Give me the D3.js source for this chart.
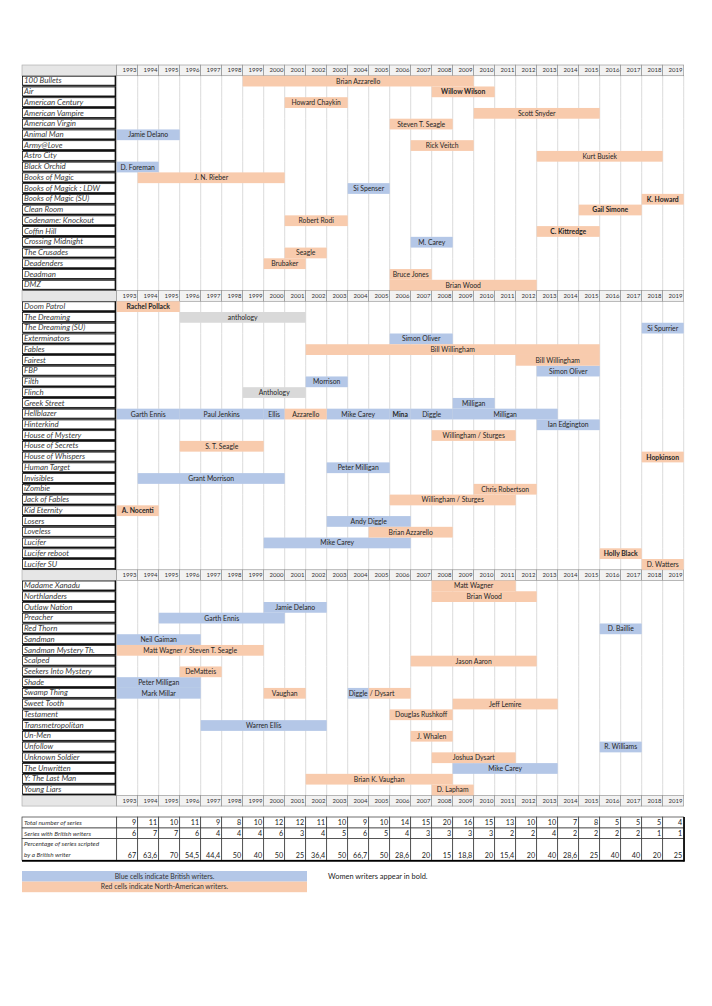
<!DOCTYPE html>
<html>
<head>
<meta charset="utf-8">
<script src="https://cdn.jsdelivr.net/npm/d3@7/dist/d3.min.js"></script>
<style>
  body { margin: 0; background: #fff; }
  svg { display: block; font-family: Lato, "Open Sans", sans-serif; }
</style>
</head>
<body>
<div id="chart"></div>
<script>
// year columns
var years = [1993, 1994, 1995, 1996, 1997, 1998, 1999, 2000, 2001, 2002, 2003, 2004, 2005, 2006,
             2007, 2008, 2009, 2010, 2011, 2012, 2013, 2014, 2015, 2016, 2017, 2018, 2019];

// series, in the three blocks of the table
var section1 = ["100 Bullets", "Air", "American Century", "American Vampire", "American Virgin",
  "Animal Man", "Army@Love", "Astro City", "Black Orchid", "Books of Magic", "Books of Magick : LDW",
  "Books of Magic (SU)", "Clean Room", "Codename: Knockout", "Coffin Hill", "Crossing Midnight",
  "The Crusades", "Deadenders", "Deadman", "DMZ"];
var section2 = ["Doom Patrol", "The Dreaming", "The Dreaming (SU)", "Exterminators", "Fables", "Fairest",
  "FBP", "Filth", "Flinch", "Greek Street", "Hellblazer", "Hinterkind", "House of Mystery",
  "House of Secrets", "House of Whispers", "Human Target", "Invisibles", "iZombie", "Jack of Fables",
  "Kid Eternity", "Losers", "Loveless", "Lucifer", "Lucifer reboot", "Lucifer SU"];
var section3 = ["Madame Xanadu", "Northlanders", "Outlaw Nation", "Preacher", "Red Thorn", "Sandman",
  "Sandman Mystery Th.", "Scalped", "Seekers Into Mystery", "Shade", "Swamp Thing", "Sweet Tooth",
  "Testament", "Transmetropolitan", "Un-Men", "Unfollow", "Unknown Soldier", "The Unwritten",
  "Y: The Last Man", "Young Liars"];

// [series, writer, first year, last year]
var britishRuns = [
  ["Animal Man", "Jamie Delano", 1993, 1995],
  ["Black Orchid", "D. Foreman", 1993, 1994],
  ["Books of Magick : LDW", "Si Spenser", 2004, 2005],
  ["Crossing Midnight", "M. Carey", 2007, 2008],
  ["The Dreaming (SU)", "Si Spurrier", 2018, 2019],
  ["Exterminators", "Simon Oliver", 2006, 2008],
  ["FBP", "Simon Oliver", 2013, 2015],
  ["Filth", "Morrison", 2002, 2003],
  ["Greek Street", "Milligan", 2009, 2010],
  ["Hellblazer", "Garth Ennis", 1993, 1995],
  ["Hellblazer", "Paul Jenkins", 1996, 1999],
  ["Hellblazer", "Ellis", 2000, 2000],
  ["Hellblazer", "Mike Carey", 2003, 2005],
  ["Hellblazer", "Mina", 2006, 2006],
  ["Hellblazer", "Diggle", 2007, 2008],
  ["Hellblazer", "Milligan", 2009, 2013],
  ["Hinterkind", "Ian Edgington", 2013, 2015],
  ["Human Target", "Peter Milligan", 2003, 2005],
  ["Invisibles", "Grant Morrison", 1994, 2000],
  ["Losers", "Andy Diggle", 2003, 2006],
  ["Lucifer", "Mike Carey", 2000, 2006],
  ["Outlaw Nation", "Jamie Delano", 2000, 2002],
  ["Preacher", "Garth Ennis", 1995, 2000],
  ["Red Thorn", "D. Baillie", 2016, 2017],
  ["Sandman", "Neil Gaiman", 1993, 1996],
  ["Shade", "Peter Milligan", 1993, 1996],
  ["Swamp Thing", "Mark Millar", 1993, 1996],
  ["Swamp Thing", "Diggle", 2004, 2004, "start"],
  ["Transmetropolitan", "Warren Ellis", 1997, 2002],
  ["Unfollow", "R. Williams", 2016, 2017],
  ["The Unwritten", "Mike Carey", 2009, 2013]
];

var americanRuns = [
  ["100 Bullets", "Brian Azzarello", 1999, 2009],
  ["Air", "Willow Wilson", 2008, 2010],
  ["American Century", "Howard Chaykin", 2001, 2003],
  ["American Vampire", "Scott Snyder", 2010, 2015],
  ["American Virgin", "Steven T. Seagle", 2006, 2008],
  ["Army@Love", "Rick Veitch", 2007, 2009],
  ["Astro City", "Kurt Busiek", 2013, 2018],
  ["Books of Magic", "J. N. Rieber", 1994, 2000],
  ["Books of Magic (SU)", "K. Howard", 2018, 2019],
  ["Clean Room", "Gail Simone", 2015, 2017],
  ["Codename: Knockout", "Robert Rodi", 2001, 2003],
  ["Coffin Hill", "C. Kittredge", 2013, 2015],
  ["The Crusades", "Seagle", 2001, 2002],
  ["Deadenders", "Brubaker", 2000, 2001],
  ["Deadman", "Bruce Jones", 2006, 2007],
  ["DMZ", "Brian Wood", 2006, 2012],
  ["Doom Patrol", "Rachel Pollack", 1993, 1995],
  ["Fables", "Bill Willingham", 2002, 2015],
  ["Fairest", "Bill Willingham", 2012, 2015],
  ["Hellblazer", "Azzarello", 2001, 2002],
  ["House of Mystery", "Willingham / Sturges", 2008, 2011],
  ["House of Secrets", "S. T. Seagle", 1996, 1999],
  ["House of Whispers", "Hopkinson", 2018, 2019],
  ["iZombie", "Chris Robertson", 2010, 2012],
  ["Jack of Fables", "Willingham / Sturges", 2006, 2011],
  ["Kid Eternity", "A. Nocenti", 1993, 1994],
  ["Loveless", "Brian Azzarello", 2005, 2008],
  ["Lucifer reboot", "Holly Black", 2016, 2017],
  ["Lucifer SU", "D. Watters", 2018, 2019],
  ["Madame Xanadu", "Matt Wagner", 2008, 2011],
  ["Northlanders", "Brian Wood", 2008, 2012],
  ["Sandman Mystery Th.", "Matt Wagner / Steven T. Seagle", 1993, 1999],
  ["Scalped", "Jason Aaron", 2007, 2012],
  ["Seekers Into Mystery", "DeMatteis", 1996, 1997],
  ["Swamp Thing", "Vaughan", 2000, 2001],
  ["Swamp Thing", "/ Dysart", 2005, 2006, "start"],
  ["Sweet Tooth", "Jeff Lemire", 2009, 2013],
  ["Testament", "Douglas Rushkoff", 2006, 2008],
  ["Un-Men", "J. Whalen", 2007, 2008],
  ["Unknown Soldier", "Joshua Dysart", 2008, 2011],
  ["Y: The Last Man", "Brian K. Vaughan", 2002, 2008],
  ["Young Liars", "D. Lapham", 2008, 2009]
];

var anthologyRuns = [
  ["The Dreaming", "anthology", 1996, 2001],
  ["Flinch", "Anthology", 1999, 2001]
];

var womenWriters = ["Willow Wilson", "K. Howard", "Gail Simone", "C. Kittredge", "Rachel Pollack",
  "Mina", "Hopkinson", "A. Nocenti", "Holly Black"];

// summary rows
var totalSeries = [9, 11, 10, 11, 9, 8, 10, 12, 12, 11, 10, 9, 10, 14, 15, 20, 16, 15, 13, 10, 10, 7, 8, 5, 5, 5, 4];
var britishSeries = [6, 7, 7, 6, 4, 4, 4, 6, 3, 4, 5, 6, 5, 4, 3, 3, 3, 3, 2, 2, 4, 2, 2, 2, 2, 1, 1];
var britishShare = [67, 63.6, 70, 54.5, 44.4, 50, 40, 50, 25, 36.4, 50, 66.7, 50, 28.6, 20, 15, 18.8,
  20, 15.4, 20, 40, 28.6, 25, 40, 40, 20, 25];

var colors = { british: "#b4c7e7", american: "#f8cbad", anthology: "#d9d9d9" };

var width = 712, height = 1006;
var labelX = 22, gridLeft = 116.7, gridRight = 683.7;
var tableTop = 65, rowH = 10.74;

var svg = d3.select("#chart").append("svg")
  .attr("width", width).attr("height", height);

svg.append("rect").attr("width", width).attr("height", height).attr("fill", "#fff");

// build row list: header, block, header, block, header, block, header
var rows = [];
[section1, section2, section3].forEach(function(sec){
  rows.push({ header: true });
  sec.forEach(function(t){ rows.push({ title: t }); });
});
rows.push({ header: true });

var rowIndex = {};
rows.forEach(function(r, i){ if (r.title) rowIndex[r.title] = i; });

var x = d3.scaleBand().domain(years).range([gridLeft, gridRight]);
var y = d3.scaleBand().domain(d3.range(rows.length)).range([tableTop, tableTop + rows.length * rowH]);
var bw = x.bandwidth(), bh = y.bandwidth();

// body grid lines (year columns)
var grid = svg.append("g");
rows.forEach(function(r, i){
  if (r.header) return;
  grid.selectAll(null).data(years.concat(["end"])).enter().append("line")
    .attr("x1", function(d){ return d === "end" ? gridRight : x(d); })
    .attr("x2", function(d){ return d === "end" ? gridRight : x(d); })
    .attr("y1", y(i)).attr("y2", y(i) + bh)
    .attr("stroke", "#d2d2d2").attr("stroke-width", 0.8);
});

// header rows
rows.forEach(function(r, i){
  if (!r.header) return;
  var g = svg.append("g");
  g.append("rect").attr("x", labelX).attr("y", y(i)).attr("width", gridLeft - labelX).attr("height", bh)
    .attr("fill", "#e6e6e6").attr("stroke", "#a6a6a6").attr("stroke-width", 0.6);
  g.selectAll("rect.yr").data(years).enter().append("rect").attr("class", "yr")
    .attr("x", function(d){ return x(d); }).attr("y", y(i))
    .attr("width", bw).attr("height", bh)
    .attr("fill", "#f2f2f2").attr("stroke", "#8c8c8c").attr("stroke-width", 0.6);
  g.selectAll("text").data(years).enter().append("text")
    .attr("x", function(d){ return x(d) + bw - 1.2; })
    .attr("y", y(i) + bh / 2 + 2.1)
    .attr("text-anchor", "end")
    .attr("font-size", 6).attr("fill", "#333")
    .text(function(d){ return d; });
});

// runs
var runs = [];
britishRuns.forEach(function(d){ runs.push({ t: d[0], w: d[1], a: d[2], b: d[3], anchor: d[4], kind: "british" }); });
americanRuns.forEach(function(d){ runs.push({ t: d[0], w: d[1], a: d[2], b: d[3], anchor: d[4], kind: "american" }); });
anthologyRuns.forEach(function(d){ runs.push({ t: d[0], w: d[1], a: d[2], b: d[3], anchor: d[4], kind: "anthology" }); });

svg.append("g").selectAll("rect").data(runs).enter().append("rect")
  .attr("x", function(d){ return x(d.a); })
  .attr("y", function(d){ return y(rowIndex[d.t]); })
  .attr("width", function(d){ return x(d.b) + bw - x(d.a); })
  .attr("height", bh)
  .attr("fill", function(d){ return colors[d.kind]; });

svg.append("g").selectAll("text").data(runs).enter().append("text")
  .attr("x", function(d){
    if (d.anchor === "start") return x(d.a) + 1;
    return (x(d.a) + x(d.b) + bw) / 2;
  })
  .attr("y", function(d){ return y(rowIndex[d.t]) + bh / 2 + 2.5; })
  .attr("text-anchor", function(d){ return d.anchor || "middle"; })
  .attr("font-size", 6.8)
  .attr("font-weight", function(d){ return womenWriters.indexOf(d.w) >= 0 ? 700 : 400; })
  .attr("fill", "#262626")
  .text(function(d){ return d.w; });

// title cells
var titled = rows.map(function(r, i){ return { r: r, i: i }; }).filter(function(d){ return d.r.title; });
var lab = svg.append("g");
lab.selectAll("rect").data(titled).enter().append("rect")
  .attr("x", labelX + 0.5).attr("y", function(d){ return y(d.i) + 0.5; })
  .attr("width", gridLeft - labelX - 2).attr("height", bh - 1.8)
  .attr("fill", "#fff").attr("stroke", "#111").attr("stroke-width", 0.8);
lab.selectAll("line").data(titled).enter().append("line")
  .attr("x1", labelX + 0.5).attr("x2", gridLeft - 1)
  .attr("y1", function(d){ return y(d.i) + bh - 0.6; })
  .attr("y2", function(d){ return y(d.i) + bh - 0.6; })
  .attr("stroke", "#111").attr("stroke-width", 1.3);
lab.selectAll("line.r").data(titled).enter().append("line").attr("class", "r")
  .attr("x1", gridLeft - 1.2).attr("x2", gridLeft - 1.2)
  .attr("y1", function(d){ return y(d.i); })
  .attr("y2", function(d){ return y(d.i) + bh; })
  .attr("stroke", "#111").attr("stroke-width", 1.4);
lab.selectAll("text").data(titled).enter().append("text")
  .attr("x", labelX + 2).attr("y", function(d){ return y(d.i) + bh / 2 + 2.2; })
  .attr("font-size", 7.9).attr("font-style", "italic").attr("fill", "#3a3a3a")
  .text(function(d){ return d.r.title; });

// summary table
var sumRows = [
  { label: ["Total number of series"], vals: totalSeries, h: 11 },
  { label: ["Series with British writers"], vals: britishSeries, h: 10.6 },
  { label: ["Percentage  of series scripted", "by a British writer"], vals: britishShare, h: 21.6 }
];
var sumTop = 817;
var yy = sumTop;
sumRows.forEach(function(s){ s.y = yy; yy += s.h; });
var sumBottom = yy;

var sum = svg.append("g");
sumRows.forEach(function(s){
  sum.append("rect").attr("x", labelX).attr("y", s.y).attr("width", gridLeft - labelX).attr("height", s.h)
    .attr("fill", "#fff").attr("stroke", "#333").attr("stroke-width", 0.7);
  sum.selectAll(null).data(years).enter().append("rect")
    .attr("x", function(d){ return x(d); }).attr("y", s.y).attr("width", bw).attr("height", s.h)
    .attr("fill", "#fff").attr("stroke", "#333").attr("stroke-width", 0.7);
  s.label.forEach(function(l, k){
    sum.append("text").attr("x", labelX + 2).attr("y", s.y + 7.8 + k * 10.6)
      .attr("font-size", 6.4).attr("font-style", "italic").attr("fill", "#333").text(l);
  });
  sum.selectAll(null).data(s.vals).enter().append("text")
    .attr("x", function(d, i){ return x(years[i]) + bw - 1.5; })
    .attr("y", s.y + s.h - 2.6)
    .attr("text-anchor", "end").attr("font-size", 7.2).attr("fill", "#222")
    .text(function(d){ return String(d).replace(".", ","); });
});
sum.append("line").attr("x1", labelX).attr("x2", gridRight + 0.8)
  .attr("y1", sumBottom + 0.6).attr("y2", sumBottom + 0.6).attr("stroke", "#000").attr("stroke-width", 1.8);
sum.append("line").attr("x1", gridRight + 0.4).attr("x2", gridRight + 0.4)
  .attr("y1", sumTop).attr("y2", sumBottom + 1.4).attr("stroke", "#000").attr("stroke-width", 1.6);

// legend
var legend = [
  { text: "Blue cells indicate British writers.", color: colors.british },
  { text: "Red cells indicate North-American writers.", color: colors.american }
];
var lg = svg.append("g");
lg.selectAll("rect").data(legend).enter().append("rect")
  .attr("x", labelX).attr("y", function(d, i){ return 871 + i * 10.6; })
  .attr("width", 285).attr("height", 10.6)
  .attr("fill", function(d){ return d.color; });
lg.selectAll("text").data(legend).enter().append("text")
  .attr("x", labelX + 142.5).attr("y", function(d, i){ return 878.6 + i * 10.6; })
  .attr("text-anchor", "middle").attr("font-size", 6.9).attr("fill", "#333")
  .text(function(d){ return d.text; });

svg.append("text").attr("x", 328).attr("y", 879)
  .attr("font-size", 7.4).attr("fill", "#222")
  .text("Women writers appear in bold.");
</script>
</body>
</html>
